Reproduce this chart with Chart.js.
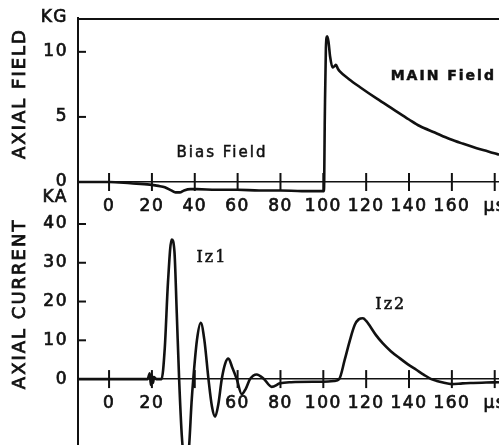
<!DOCTYPE html>
<html>
<head>
<meta charset="utf-8">
<script src="https://cdn.jsdelivr.net/npm/chart.js@4.4.1/dist/chart.umd.min.js"></script>
<style>
  html, body { margin: 0; padding: 0; background: #fff; }
  #wrap { position: relative; width: 499px; height: 445px; }
  canvas { display: block; }
</style>
</head>
<body>
<div id="wrap"><canvas id="c" width="499" height="445"></canvas></div>
<script>
// ---- data ----
const timeTicks = [0, 20, 40, 60, 80, 100, 120, 140, 160, 180];
const topTickLabels = ['0', '20', '40', '60', '80', '100', '120', '140', '160', 'µs'];
const bottomTickLabels = ['0', '20', '', '60', '80', '100', '120', '140', '160', 'µs'];
const fieldTickValues = [0, 5, 10];
const currentTickValues = [0, 10, 20, 30, 40];
const fieldUnit = 'KG';
const currentUnit = 'KA';

const fieldTimes = [-14.5, 0, 10, 19, 23, 26, 29, 31, 33, 35, 38, 41, 50, 60, 70, 80, 90, 98, 100.3,
  100.7, 101.2, 101.8, 102.4, 103.2, 104.3, 105.2, 105.9, 106.8, 107.7, 112, 117, 125, 132.5, 140,
  145, 152, 159, 165, 171.6, 177, 182];
const fieldValues = [0, 0, -0.1, -0.2, -0.3, -0.4, -0.65, -0.8, -0.8, -0.65, -0.55, -0.55, -0.6, -0.6,
  -0.65, -0.65, -0.7, -0.7, -0.7, 5, 10.3, 11.2, 10.8, 9.6, 8.8, 8.9, 9.0, 8.7, 8.5, 7.9, 7.3, 6.4,
  5.6, 4.8, 4.3, 3.8, 3.3, 2.95, 2.6, 2.35, 2.1];

const currentTimes = [-14.5, 0, 18, 19, 19.5, 20, 20.5, 21, 22, 24.5, 26, 27.5, 29.2, 30.5, 31.6, 32.7,
  34, 35.5, 36.5, 37.4, 38.5, 39.3, 41, 42.8, 44.5, 46.4, 48, 49.5, 51, 52.6, 54.2, 55.7, 57.5, 59.6,
  61.9, 63.8, 65.8, 68.9, 72.3, 75.9, 79.8, 85, 95, 100, 105, 107.4, 110, 112.4, 114.7, 116.5, 118.5,
  120, 121.6, 124.5, 127.8, 131.5, 135.6, 139.5, 143.4, 147, 150.4, 153, 155.9, 159.9, 165, 170, 176, 182];
const currentValues = [0, 0, 0, 1.5, -1.5, 1, -1, 0.5, 0, 0, 8, 25, 36, 33, 17, 0,
  -15, -22, -22, -17, -6, 0, 10, 14.5, 10, 0, -7, -9.7, -6.5, 0, 4, 5.3, 3, 0,
  -3.9, -2.5, 0, 1.2, 0, -2.0, -1.1, -0.8, -0.7, -0.7, -0.5, 0, 5, 10, 14, 15.4, 15.7,
  15, 13.8, 11.4, 9.2, 7.2, 5.4, 3.8, 2.4, 1.1, 0, -0.5, -0.9, -1.3, -1.1, -1.0, -0.9, -0.8];

const noteTexts = ['Bias Field', 'MAIN Field', 'Iz1', 'Iz2'];
const noteTimes = [52.7, 156, 48, 131.5];
const noteValues = [2.2, 8.1, 31.3, 19.2];
const notePanels = ['top', 'top', 'bottom', 'bottom'];

const axisTitles = ['AXIAL FIELD', 'AXIAL CURRENT'];
const axisTitleCenters = [6.8, 19.4];   // value at which each title is centred

// ---- styling ----
const INK = '#111';
const FONT = "'DejaVu Sans', sans-serif";
const X_MIN = -14.5, X_MAX = 182;
const TOP_MIN = -1.23, TOP_MAX = 12.6;
const BOT_MIN = -17, BOT_MAX = 46.7;

const toPoints = (xs, ys) => xs.map((x, i) => ({ x, y: ys[i] }));

const decor = {
  id: 'decor',
  beforeDraw(chart) { chart.ctx.letterSpacing = '1.5px'; },
  afterDraw(chart) {
    const ctx = chart.ctx;
    const sc = chart.scales;
    const xTop = sc.xTop, xBot = sc.xBot, yTop = sc.yTop, yBot = sc.yBot;
    ctx.save();
    ctx.strokeStyle = INK;
    ctx.lineWidth = 2;
    const seg = (x1, y1, x2, y2) => { ctx.beginPath(); ctx.moveTo(x1, y1); ctx.lineTo(x2, y2); ctx.stroke(); };
    // frame line along the top of the upper panel
    const yt = yTop.getPixelForValue(TOP_MAX) + 1;
    seg(xTop.left, yt, xTop.right, yt);
    // crossing tick marks on both time axes
    for (const p of [[xTop, yTop], [xBot, yBot]]) {
      const y0 = p[1].getPixelForValue(0);
      for (const t of timeTicks) {
        const px = p[0].getPixelForValue(t);
        seg(px, y0 - 9, px, y0 + 9);
      }
    }
    // inward tick marks on value axes
    for (const p of [[yTop, fieldTickValues], [yBot, currentTickValues]]) {
      for (const v of p[1]) {
        if (v === 0) continue;
        const py = p[0].getPixelForValue(v);
        seg(p[0].right, py, p[0].right + 8, py);
      }
    }
    // notes
    ctx.fillStyle = INK;
    ctx.textAlign = 'center';
    ctx.textBaseline = 'middle';
    ctx.letterSpacing = '2px';
    ctx.lineWidth = 0.5;
    noteTexts.forEach((txt, i) => {
      const xs = notePanels[i] === 'top' ? xTop : xBot;
      const ys = notePanels[i] === 'top' ? yTop : yBot;
      if (txt.startsWith('Iz')) ctx.font = "16px 'DejaVu Serif', serif";
      else if (txt.startsWith('MAIN')) ctx.font = "bold 14px " + FONT;
      else ctx.font = "15px " + FONT;
      const px = xs.getPixelForValue(noteTimes[i]), py = ys.getPixelForValue(noteValues[i]);
      ctx.fillText(txt, px, py);
      ctx.strokeText(txt, px, py);
    });
    // rotated axis titles
    ctx.font = "18px " + FONT;
    ctx.lineWidth = 0.8;
    [yTop, yBot].forEach((ys, i) => {
      ctx.save();
      ctx.translate(ys.left + 20, ys.getPixelForValue(axisTitleCenters[i]));
      ctx.rotate(-Math.PI / 2);
      ctx.fillText(axisTitles[i], 0, 0);
      ctx.strokeText(axisTitles[i], 0, 0);
      ctx.restore();
    });
    ctx.restore();
  }
};

const xCommon = (yId, labels) => ({
  type: 'linear',
  min: X_MIN, max: X_MAX,
  position: { [yId]: 0 },
  grid: { display: false, drawTicks: false },
  border: { display: true, color: INK, width: 1.6 },
  afterBuildTicks: s => { s.ticks = timeTicks.map(v => ({ value: v })); },
  afterFit: s => { s.paddingLeft = 0; s.paddingRight = 0; s.paddingTop = 0; s.paddingBottom = 0; },
  ticks: {
    autoSkip: false, maxRotation: 0, padding: 14, color: INK,
    textStrokeColor: INK, textStrokeWidth: 0.7,
    font: { family: FONT, size: 17 },
    callback: v => labels[timeTicks.indexOf(v)]
  }
});

const yCommon = (min, max, vals, unit, weight) => ({
  type: 'linear', position: 'left', stack: 'panels', stackWeight: weight,
  min, max,
  grid: { display: false, drawTicks: false },
  border: { display: true, color: INK, width: 2 },
  afterBuildTicks: s => { s.ticks = vals.concat([max]).map(v => ({ value: v })); },
  afterFit: s => { s.width = 78; s.paddingTop = 0; s.paddingBottom = 0; },
  ticks: {
    autoSkip: false, padding: 10, color: INK,
    textStrokeColor: INK, textStrokeWidth: 0.7,
    font: { family: FONT, size: 17 },
    callback: v => (v === max ? unit : String(v))
  }
});

new Chart(document.getElementById('c'), {
  type: 'line',
  data: {
    datasets: [
      { data: toPoints(fieldTimes, fieldValues), xAxisID: 'xTop', yAxisID: 'yTop',
        borderColor: INK, borderWidth: 2.6, pointRadius: 0, fill: false, cubicInterpolationMode: 'monotone' },
      { data: toPoints(currentTimes, currentValues), xAxisID: 'xBot', yAxisID: 'yBot',
        borderColor: INK, borderWidth: 2.6, pointRadius: 0, fill: false, cubicInterpolationMode: 'monotone' }
    ]
  },
  options: {
    responsive: false,
    animation: false,
    layout: { padding: { top: 18, right: 0, bottom: 0, left: 0 } },
    plugins: { legend: { display: false }, tooltip: { enabled: false } },
    scales: {
      xTop: xCommon('yTop', topTickLabels),
      xBot: xCommon('yBot', bottomTickLabels),
      yBot: yCommon(BOT_MIN, BOT_MAX, currentTickValues, currentUnit, 247),
      yTop: yCommon(TOP_MIN, TOP_MAX, fieldTickValues, fieldUnit, 180)
    }
  },
  plugins: [decor]
});
</script>
</body>
</html>
